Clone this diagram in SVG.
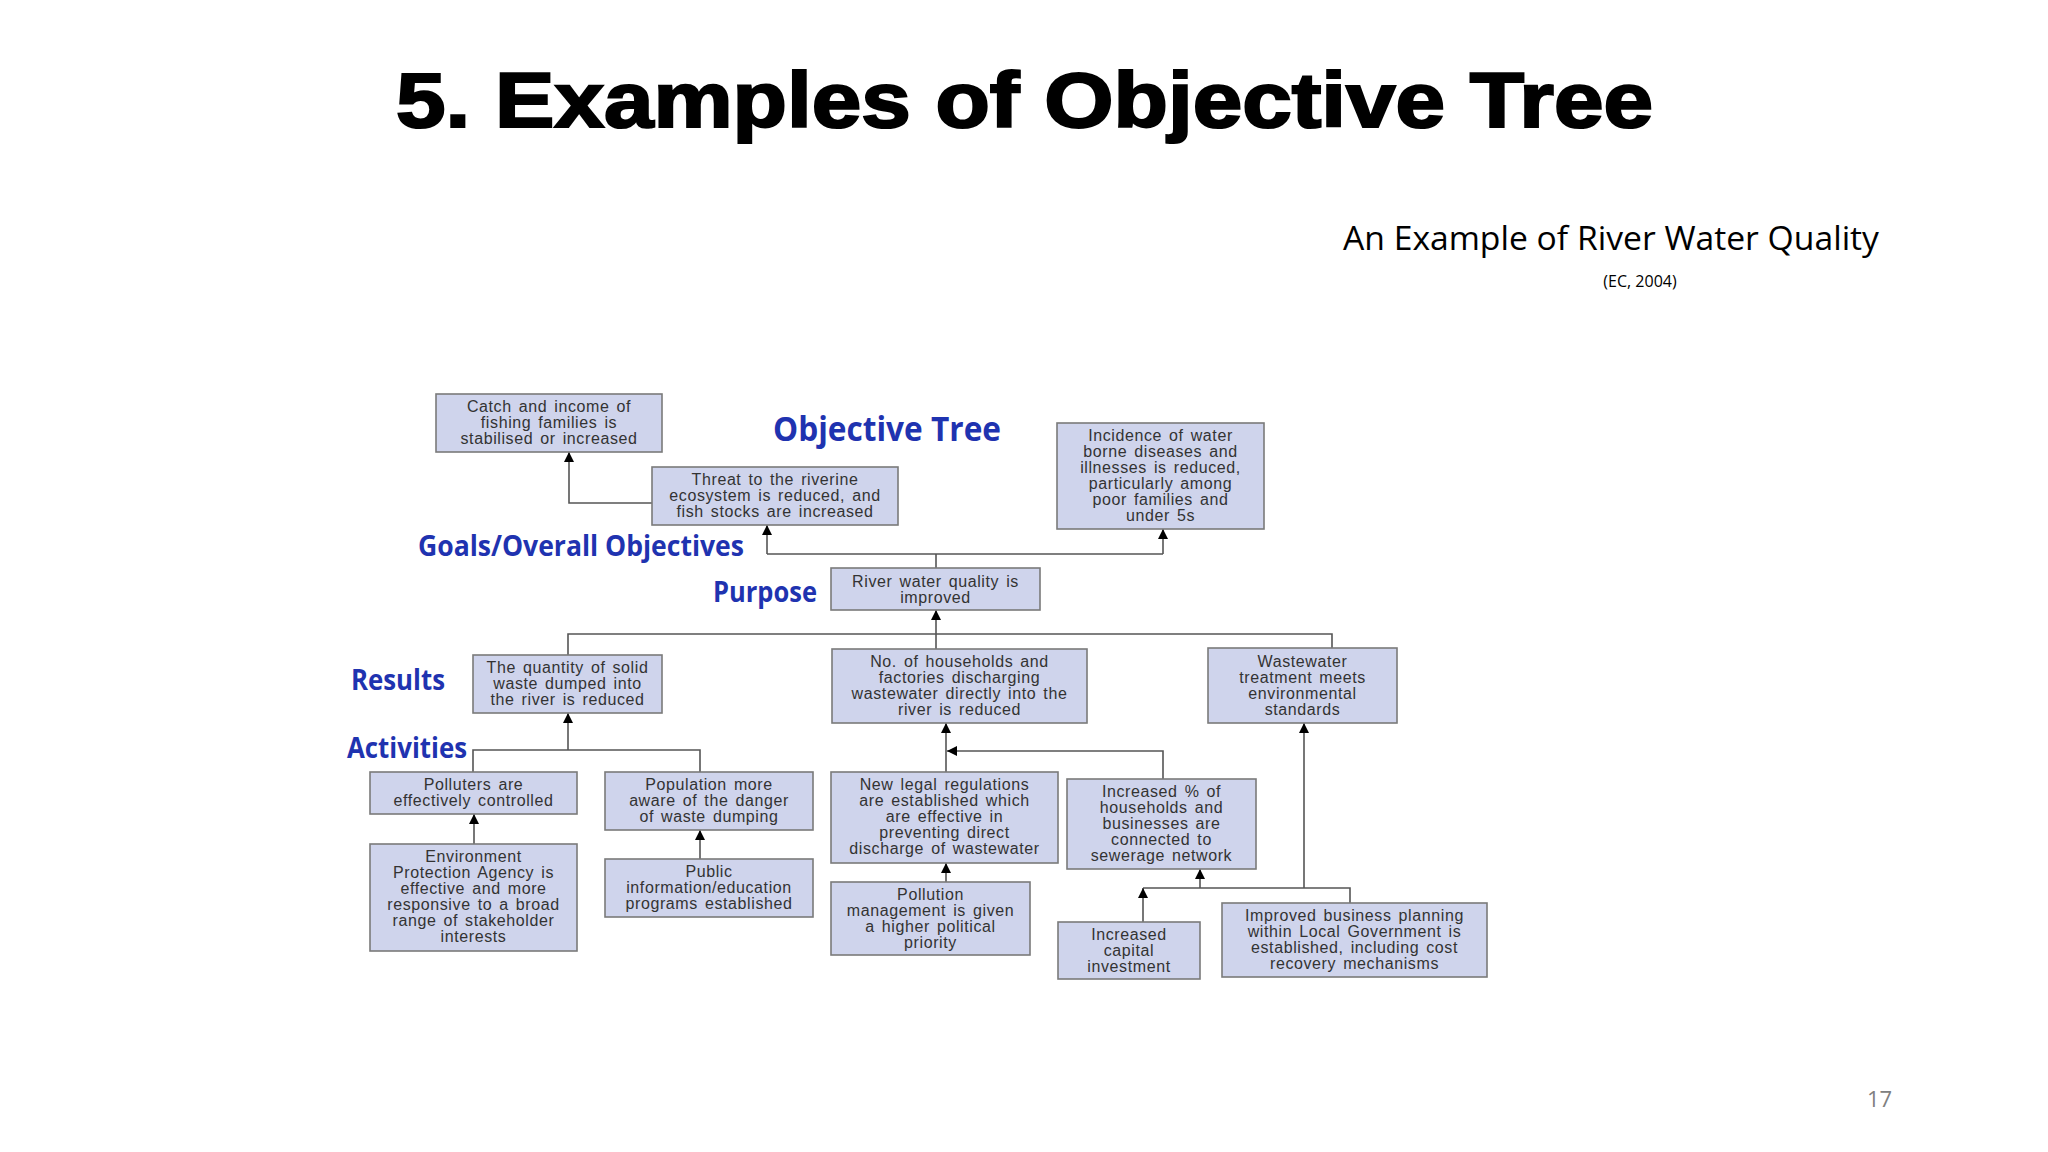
<svg xmlns="http://www.w3.org/2000/svg" width="2048" height="1152" viewBox="0 0 2048 1152">
<style>
.box{fill:#CFD4EC;stroke:#7A7A7A;stroke-width:1.6}
.bt{font-family:"Liberation Sans",Arial,sans-serif;font-size:16px;letter-spacing:0.6px;word-spacing:2px;fill:#333;text-anchor:middle}
.lbl{font-family:"Open Sans","Liberation Sans",sans-serif;font-weight:bold;fill:#1F33B0}
.con{fill:none;stroke:#555;stroke-width:1.6}
</style>
<defs>
<marker id="ah" markerUnits="userSpaceOnUse" markerWidth="10" markerHeight="12" viewBox="0 0 10 12" refX="10" refY="6" orient="auto">
<path d="M0,1 L10,6 L0,11 Z" fill="#000"/>
</marker>
</defs>
<rect width="2048" height="1152" fill="#fff"/>
<text x="396" y="127" font-family="Liberation Sans,Arial,sans-serif" font-weight="bold" font-size="78" fill="#000" stroke="#000" stroke-width="2.2" textLength="1257" lengthAdjust="spacingAndGlyphs">5. Examples of Objective Tree</text>
<text x="1343" y="250" font-family="Open Sans,Liberation Sans,sans-serif" font-size="33" fill="#000" textLength="536" lengthAdjust="spacingAndGlyphs">An Example of River Water Quality</text>
<text x="1640" y="287" font-family="Open Sans,Liberation Sans,sans-serif" font-size="16" fill="#000" text-anchor="middle">(EC, 2004)</text>
<text x="1867" y="1107" font-family="Open Sans,Liberation Sans,sans-serif" font-size="22" fill="#808080">17</text>

<g id="labels">
<text class="lbl" x="773" y="441" font-size="34" textLength="228" lengthAdjust="spacingAndGlyphs">Objective Tree</text>
<text class="lbl" x="418" y="556" font-size="28" textLength="326" lengthAdjust="spacingAndGlyphs">Goals/Overall Objectives</text>
<text class="lbl" x="713" y="602" font-size="28" textLength="104" lengthAdjust="spacingAndGlyphs">Purpose</text>
<text class="lbl" x="351" y="690" font-size="28" textLength="94" lengthAdjust="spacingAndGlyphs">Results</text>
<text class="lbl" x="347" y="758" font-size="28" textLength="120" lengthAdjust="spacingAndGlyphs">Activities</text>
</g>

<g id="connectors">
<path class="con" d="M652,503 H569 V452" marker-end="url(#ah)"/>
<path class="con" d="M936,568 V554"/>
<path class="con" d="M767,554 H1163"/>
<path class="con" d="M767,554 V525" marker-end="url(#ah)"/>
<path class="con" d="M1163,554 V529" marker-end="url(#ah)"/>
<path class="con" d="M568,655 V634 H1332 V648"/>
<path class="con" d="M936,649 V610" marker-end="url(#ah)"/>
<path class="con" d="M568,750 V713" marker-end="url(#ah)"/>
<path class="con" d="M473,772 V750 H700 V772"/>
<path class="con" d="M474,844 V814" marker-end="url(#ah)"/>
<path class="con" d="M700,859 V830" marker-end="url(#ah)"/>
<path class="con" d="M946,772 V723" marker-end="url(#ah)"/>
<path class="con" d="M1163,779 V751 H947" marker-end="url(#ah)"/>
<path class="con" d="M946,882 V863" marker-end="url(#ah)"/>
<path class="con" d="M1200,888 V869" marker-end="url(#ah)"/>
<path class="con" d="M1143,888 H1350 V903"/>
<path class="con" d="M1143,922 V888" marker-end="url(#ah)"/>
<path class="con" d="M1304,888 V723" marker-end="url(#ah)"/>
</g>

<g id="n1"><rect class="box" x="436" y="394" width="226" height="58"/>
<text class="bt"><tspan x="549" y="412">Catch and income of</tspan><tspan x="549" y="428">fishing families is</tspan><tspan x="549" y="444">stabilised or increased</tspan></text></g>

<g id="n2"><rect class="box" x="652" y="467" width="246" height="58"/>
<text class="bt"><tspan x="775" y="485">Threat to the riverine</tspan><tspan x="775" y="501">ecosystem is reduced, and</tspan><tspan x="775" y="517">fish stocks are increased</tspan></text></g>

<g id="n3"><rect class="box" x="1057" y="423" width="207" height="106"/>
<text class="bt"><tspan x="1160.5" y="441">Incidence of water</tspan><tspan x="1160.5" y="457">borne diseases and</tspan><tspan x="1160.5" y="473">illnesses is reduced,</tspan><tspan x="1160.5" y="489">particularly among</tspan><tspan x="1160.5" y="505">poor families and</tspan><tspan x="1160.5" y="521">under 5s</tspan></text></g>

<g id="n4"><rect class="box" x="831" y="568" width="209" height="42"/>
<text class="bt"><tspan x="935.5" y="587">River water quality is</tspan><tspan x="935.5" y="603">improved</tspan></text></g>

<g id="n5"><rect class="box" x="473" y="655" width="189" height="58"/>
<text class="bt"><tspan x="567.5" y="673">The quantity of solid</tspan><tspan x="567.5" y="689">waste dumped into</tspan><tspan x="567.5" y="705">the river is reduced</tspan></text></g>

<g id="n6"><rect class="box" x="832" y="649" width="255" height="74"/>
<text class="bt"><tspan x="959.5" y="667">No. of households and</tspan><tspan x="959.5" y="683">factories discharging</tspan><tspan x="959.5" y="699">wastewater directly into the</tspan><tspan x="959.5" y="715">river is reduced</tspan></text></g>

<g id="n7"><rect class="box" x="1208" y="648" width="189" height="75"/>
<text class="bt"><tspan x="1302.5" y="667">Wastewater</tspan><tspan x="1302.5" y="683">treatment meets</tspan><tspan x="1302.5" y="699">environmental</tspan><tspan x="1302.5" y="715">standards</tspan></text></g>

<g id="n8"><rect class="box" x="370" y="772" width="207" height="42"/>
<text class="bt"><tspan x="473.5" y="790">Polluters are</tspan><tspan x="473.5" y="806">effectively controlled</tspan></text></g>

<g id="n9"><rect class="box" x="605" y="772" width="208" height="58"/>
<text class="bt"><tspan x="709" y="790">Population more</tspan><tspan x="709" y="806">aware of the danger</tspan><tspan x="709" y="822">of waste dumping</tspan></text></g>

<g id="n10"><rect class="box" x="370" y="844" width="207" height="107"/>
<text class="bt"><tspan x="473.5" y="862">Environment</tspan><tspan x="473.5" y="878">Protection Agency is</tspan><tspan x="473.5" y="894">effective and more</tspan><tspan x="473.5" y="910">responsive to a broad</tspan><tspan x="473.5" y="926">range of stakeholder</tspan><tspan x="473.5" y="942">interests</tspan></text></g>

<g id="n11"><rect class="box" x="605" y="859" width="208" height="58"/>
<text class="bt"><tspan x="709" y="877">Public</tspan><tspan x="709" y="893">information/education</tspan><tspan x="709" y="909">programs established</tspan></text></g>

<g id="n12"><rect class="box" x="831" y="772" width="227" height="91"/>
<text class="bt"><tspan x="944.5" y="790">New legal regulations</tspan><tspan x="944.5" y="806">are established which</tspan><tspan x="944.5" y="822">are effective in</tspan><tspan x="944.5" y="838">preventing direct</tspan><tspan x="944.5" y="854">discharge of wastewater</tspan></text></g>

<g id="n13"><rect class="box" x="1067" y="779" width="189" height="90"/>
<text class="bt"><tspan x="1161.5" y="797">Increased % of</tspan><tspan x="1161.5" y="813">households and</tspan><tspan x="1161.5" y="829">businesses are</tspan><tspan x="1161.5" y="845">connected to</tspan><tspan x="1161.5" y="861">sewerage network</tspan></text></g>

<g id="n14"><rect class="box" x="831" y="882" width="199" height="73"/>
<text class="bt"><tspan x="930.5" y="900">Pollution</tspan><tspan x="930.5" y="916">management is given</tspan><tspan x="930.5" y="932">a higher political</tspan><tspan x="930.5" y="948">priority</tspan></text></g>

<g id="n15"><rect class="box" x="1058" y="922" width="142" height="57"/>
<text class="bt"><tspan x="1129" y="940">Increased</tspan><tspan x="1129" y="956">capital</tspan><tspan x="1129" y="972">investment</tspan></text></g>

<g id="n16"><rect class="box" x="1222" y="903" width="265" height="74"/>
<text class="bt"><tspan x="1354.5" y="921">Improved business planning</tspan><tspan x="1354.5" y="937">within Local Government is</tspan><tspan x="1354.5" y="953">established, including cost</tspan><tspan x="1354.5" y="969">recovery mechanisms</tspan></text></g>
</svg>
